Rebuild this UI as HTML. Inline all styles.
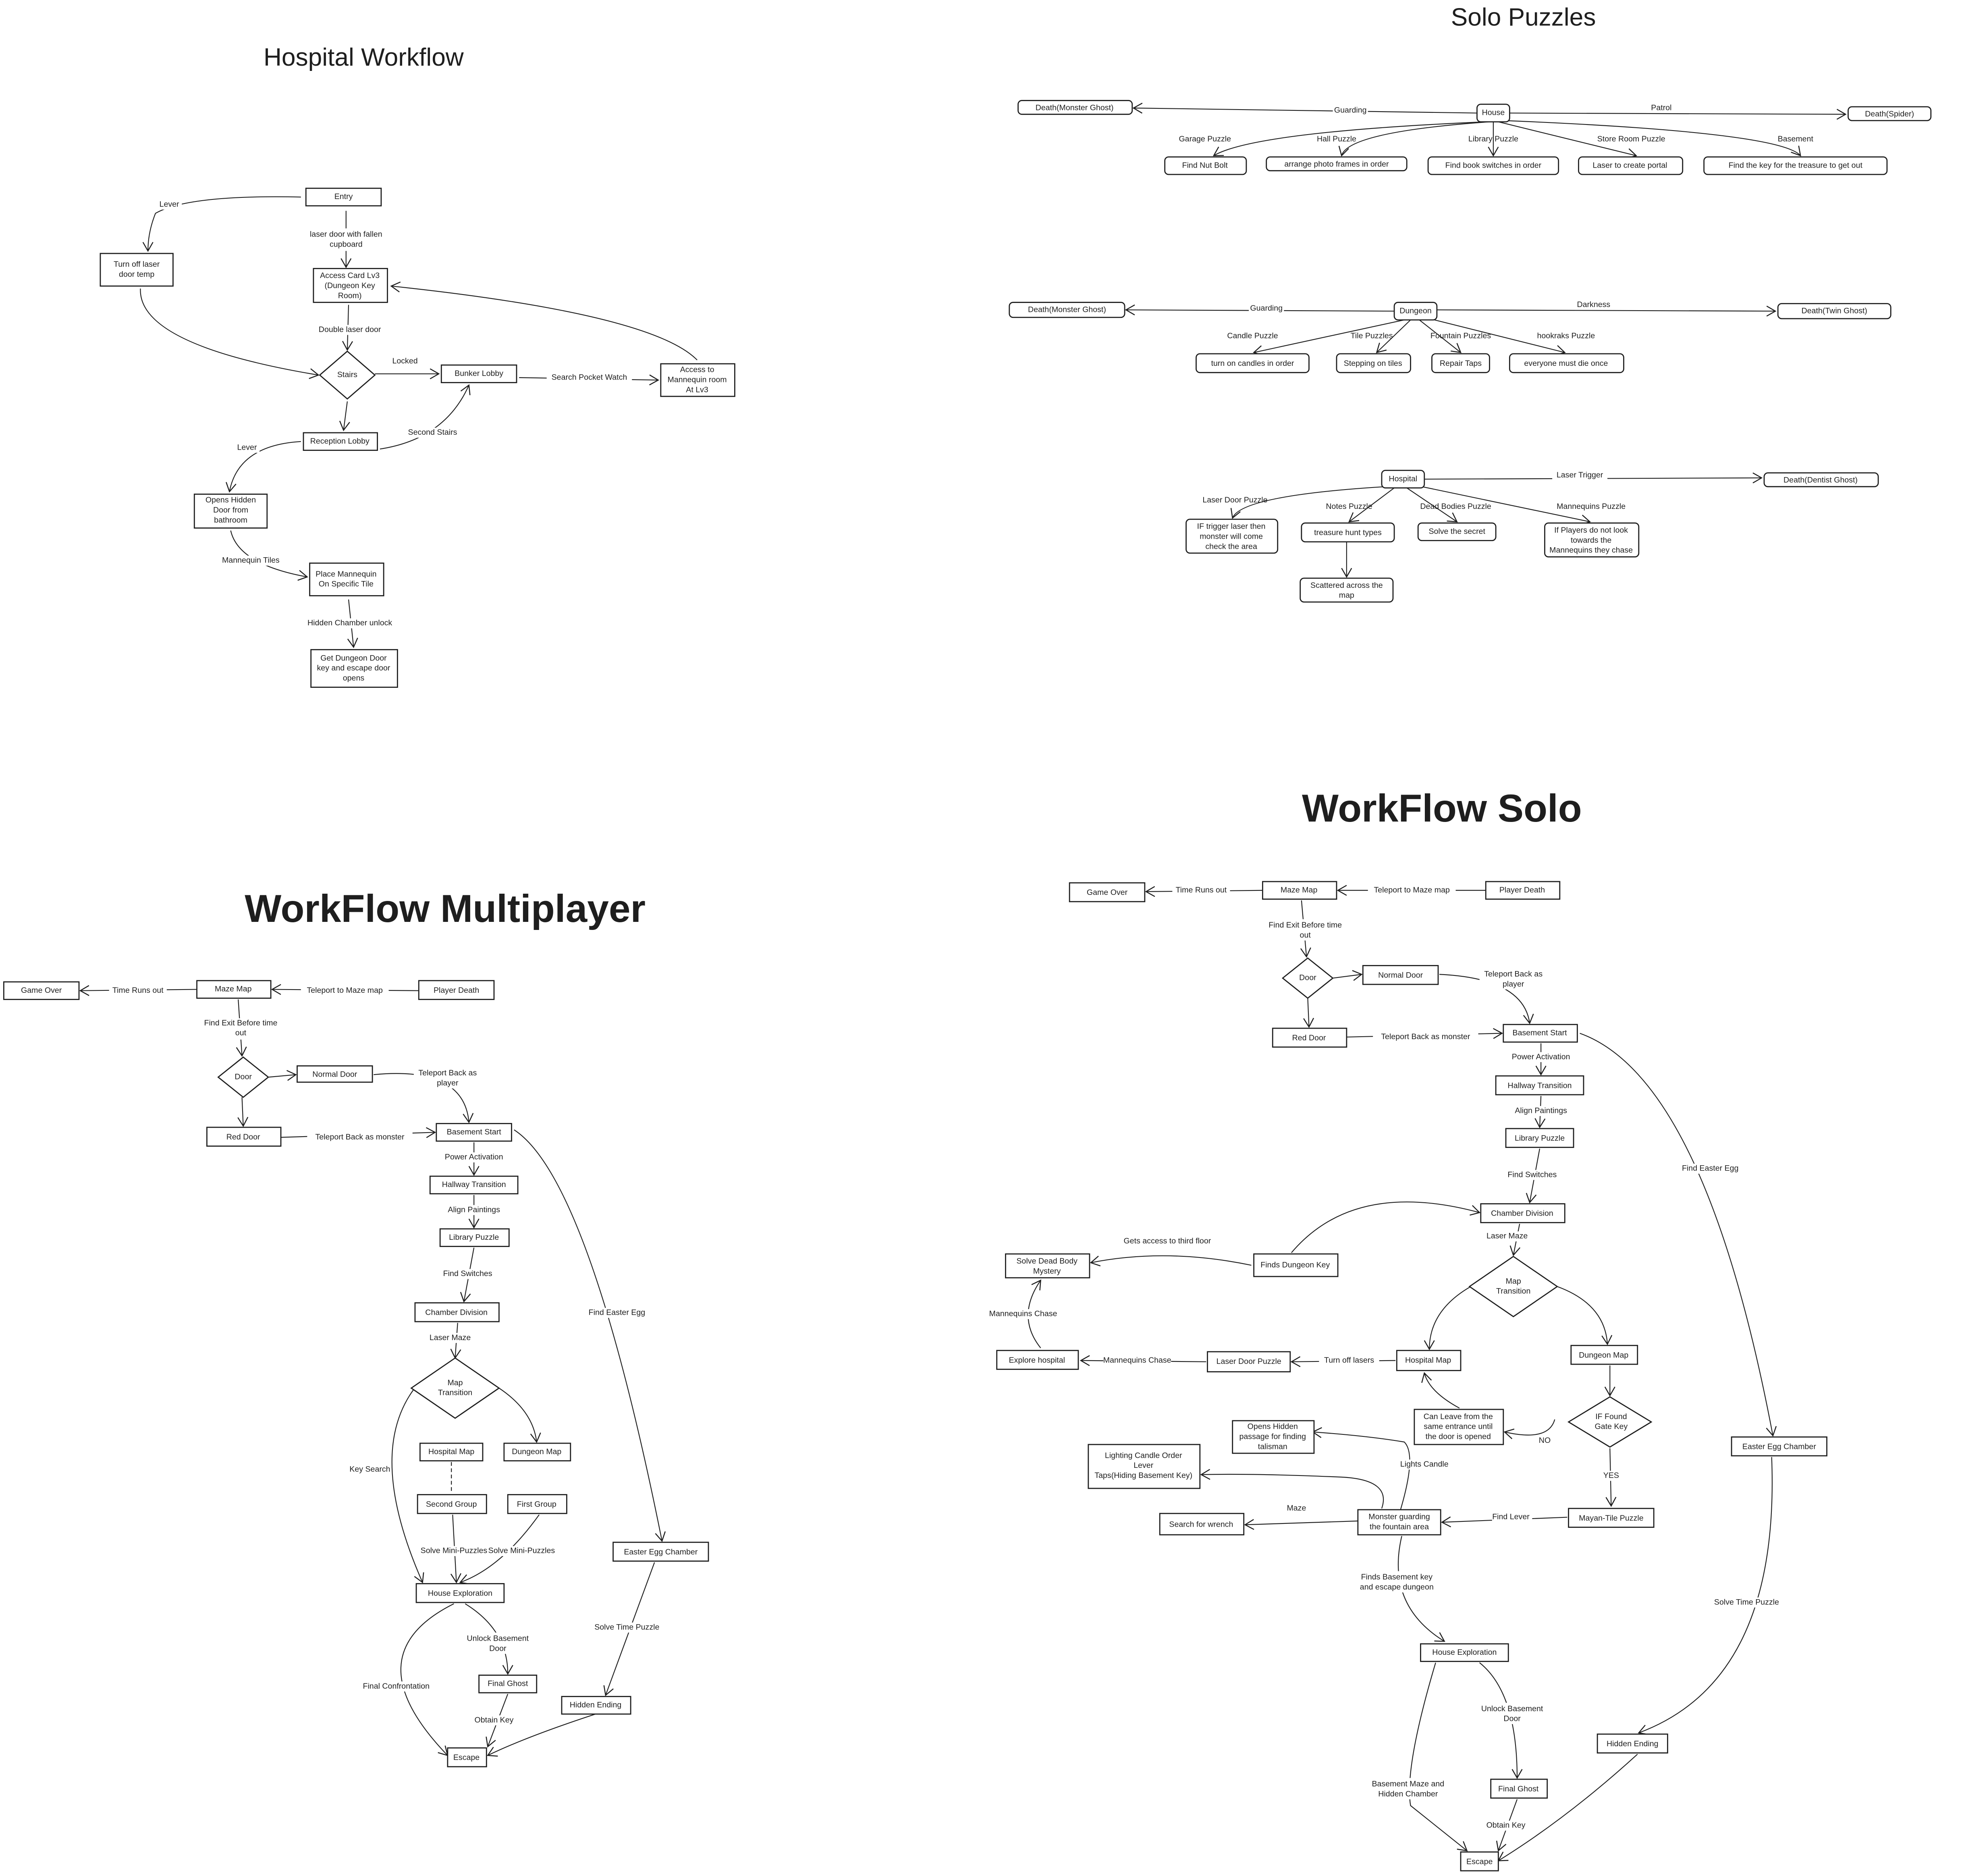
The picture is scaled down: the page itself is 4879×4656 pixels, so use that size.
<!DOCTYPE html>
<html><head><meta charset="utf-8"><style>
html,body{margin:0;padding:0;background:#fff}
svg{display:block}
text{font-family:"Liberation Sans",sans-serif;font-size:6.3px;fill:#1e1e1e;text-anchor:middle;dominant-baseline:middle}
.t1{font-size:20px}
.t2{font-size:31px;font-weight:bold}
rect{fill:#fff;stroke:#1e1e1e;stroke-width:0.9}
path,line{fill:none;stroke:#1e1e1e;stroke-width:0.7}
.lb{fill:#fff;stroke:none}
</style></head><body>
<svg width="4879" height="4656" viewBox="0 0 1568 1496" xmlns="http://www.w3.org/2000/svg">
<defs><marker id="a" markerUnits="userSpaceOnUse" markerWidth="10" markerHeight="10" refX="8" refY="5" orient="auto"><path d="M1 1 L8 5 L1 9" style="stroke-width:0.8"/></marker></defs>
<g marker-end="url(#a)">
<!-- Hospital connectors -->
<path d="M240 157 Q150 155 124 170 Q118 185 118 200"/>
<path d="M276 168 L276 213"/>
<path d="M278 243 L277 279"/>
<path d="M112 230 Q110 275 254 299"/>
<path d="M299 298 L350 298"/>
<path d="M414 301 L525 303"/>
<path d="M556 287 Q520 250 312 228"/>
<path d="M277 320 L274 343"/>
<path d="M303 358 Q355 350 374 307"/>
<path d="M240 352 Q190 355 183 392"/>
<path d="M184 423 Q190 450 245 460"/>
<path d="M278 478 L282 516"/>
<!-- Solo puzzles -->
<path d="M1178 90 L904 86"/>
<path d="M1204 90 L1472 91"/>
<path d="M1185 97 Q1000 105 968 124"/>
<path d="M1188 97 Q1075 105 1070 124"/>
<path d="M1191 97 L1191 124"/>
<path d="M1195 97 L1305 124"/>
<path d="M1200 96 Q1420 105 1436 124"/>
<path d="M1112 248 L898 247"/>
<path d="M1146 247 L1416 248"/>
<path d="M1120 255 L1000 281"/>
<path d="M1125 255 L1098 281"/>
<path d="M1132 255 L1165 281"/>
<path d="M1140 254 L1248 281"/>
<path d="M1136 382 L1405 381"/>
<path d="M1105 388 Q990 395 983 413"/>
<path d="M1112 389 L1076 416"/>
<path d="M1122 389 L1162 416"/>
<path d="M1134 388 L1268 416"/>
<path d="M1074 432 L1074 460"/>
<!-- Multiplayer -->
<path d="M157 789 L64 790"/>
<path d="M334 790 L217 789"/>
<path d="M190 797 L193 842"/>
<path d="M214 859 L236 857"/>
<path d="M193 875 L194 898"/>
<path d="M298 857 Q370 850 374 895"/>
<path d="M224 907 L347 903"/>
<path d="M378 911 L378 937"/>
<path d="M378 953 L378 979"/>
<path d="M378 995 L370 1038"/>
<path d="M365 1055 L363 1083"/>
<path d="M398 1107 Q425 1125 428 1150"/>
<path d="M330 1108 Q292 1160 337 1262"/>
<path d="M361 1208 L364 1262"/>
<path d="M430 1208 Q400 1250 367 1262"/>
<path d="M410 901 Q470 940 528 1229"/>
<path d="M522 1246 L483 1352"/>
<path d="M362 1279 Q280 1320 357 1400"/>
<path d="M371 1279 Q405 1300 405 1335"/>
<path d="M405 1351 L389 1393"/>
<path d="M475 1367 Q420 1385 389 1400"/>
<!-- Solo workflow -->
<path d="M1007 710 L914 711"/>
<path d="M1185 710 L1067 710"/>
<path d="M1038 718 L1042 763"/>
<path d="M1063 780 L1086 777"/>
<path d="M1043 796 L1044 819"/>
<path d="M1148 777 Q1215 780 1220 816"/>
<path d="M1074 827 L1198 824"/>
<path d="M1229 832 L1229 857"/>
<path d="M1229 874 L1228 899"/>
<path d="M1228 916 L1220 959"/>
<path d="M1212 976 L1207 1001"/>
<path d="M1030 999 Q1080 940 1180 967"/>
<path d="M998 1009 Q930 995 870 1007"/>
<path d="M830 1075 Q810 1050 830 1021"/>
<path d="M962 1086 L862 1085"/>
<path d="M1113 1085 L1030 1086"/>
<path d="M1173 1026 Q1140 1045 1140 1076"/>
<path d="M1242 1026 Q1280 1040 1282 1072"/>
<path d="M1284 1089 L1284 1113"/>
<path d="M1284 1155 L1285 1201"/>
<path d="M1250 1210 L1150 1214"/>
<path d="M1164 1123 Q1140 1110 1136 1095"/>
<path d="M1240 1132 Q1235 1150 1200 1142"/>
<path d="M1117 1204 Q1130 1160 1120 1150 Q1090 1145 1047 1142"/>
<path d="M1102 1203 Q1110 1180 1070 1178 Q1000 1175 958 1176"/>
<path d="M1083 1213 L993 1216"/>
<path d="M1118 1225 Q1105 1280 1152 1309"/>
<path d="M1260 824 Q1360 860 1414 1145"/>
<path d="M1413 1162 Q1420 1340 1307 1382"/>
<path d="M1145 1326 Q1120 1410 1125 1440 Q1150 1460 1170 1476"/>
<path d="M1180 1326 Q1210 1350 1210 1418"/>
<path d="M1210 1435 L1195 1476"/>
<path d="M1306 1399 Q1250 1450 1195 1484"/>
</g>
<path d="M360 1166 L360 1191" style="stroke-dasharray:3 2"/>
<!-- titles -->
<text x="290" y="47" class="t1">Hospital Workflow</text>
<text x="1215" y="15" class="t1">Solo Puzzles</text>
<text x="355" y="727" class="t2">WorkFlow Multiplayer</text>
<text x="1150" y="647" class="t2">WorkFlow Solo</text>
<!-- label backgrounds -->
<g>
<rect class="lb" x="125" y="159" width="20" height="8"/><text x="135" y="163">Lever</text>
<rect class="lb" x="240" y="182" width="74" height="18"/><text x="276" y="187">laser door with fallen</text><text x="276" y="195">cupboard</text>
<rect class="lb" x="249" y="259" width="60" height="8"/><text x="279" y="263">Double laser door</text>
<rect class="lb" x="312" y="284" width="24" height="8"/><text x="323" y="288">Locked</text>
<rect class="lb" x="436" y="297" width="68" height="8"/><text x="470" y="301">Search Pocket Watch</text>
<rect class="lb" x="322" y="341" width="46" height="8"/><text x="345" y="345">Second Stairs</text>
<rect class="lb" x="187" y="353" width="20" height="8"/><text x="197" y="357">Lever</text>
<rect class="lb" x="175" y="443" width="50" height="8"/><text x="200" y="447">Mannequin Tiles</text>
<rect class="lb" x="245" y="493" width="68" height="8"/><text x="279" y="497">Hidden Chamber unlock</text>

<rect class="lb" x="1063" y="84" width="28" height="8"/><text x="1077" y="88">Guarding</text>
<rect class="lb" x="1313" y="82" width="24" height="8"/><text x="1325" y="86">Patrol</text>
<text x="961" y="111">Garage Puzzle</text><text x="1066" y="111">Hall Puzzle</text><text x="1191" y="111">Library Puzzle</text><text x="1301" y="111">Store Room Puzzle</text><text x="1432" y="111">Basement</text>
<rect class="lb" x="996" y="242" width="28" height="8"/><text x="1010" y="246">Guarding</text>
<rect class="lb" x="1256" y="239" width="30" height="8"/><text x="1271" y="243">Darkness</text>
<text x="999" y="268">Candle Puzzle</text><text x="1094" y="268">Tile Puzzles</text><text x="1165" y="268">Fountain Puzzles</text><text x="1249" y="268">hookraks Puzzle</text>
<rect class="lb" x="1238" y="375" width="44" height="8"/><text x="1260" y="379">Laser Trigger</text>
<text x="985" y="399">Laser Door Puzzle</text><text x="1076" y="404">Notes Puzzle</text><text x="1161" y="404">Dead Bodies Puzzle</text><text x="1269" y="404">Mannequins Puzzle</text>

<rect class="lb" x="87" y="786" width="46" height="8"/><text x="110" y="790">Time Runs out</text>
<rect class="lb" x="240" y="786" width="70" height="8"/><text x="275" y="790">Teleport to Maze map</text>
<rect class="lb" x="157" y="812" width="70" height="17"/><text x="192" y="816">Find Exit Before time</text><text x="192" y="824">out</text>
<rect class="lb" x="330" y="851" width="56" height="17"/><text x="357" y="856">Teleport Back as</text><text x="357" y="864">player</text>
<rect class="lb" x="245" y="903" width="84" height="8"/><text x="287" y="907">Teleport Back as monster</text>
<rect class="lb" x="351" y="919" width="54" height="8"/><text x="378" y="923">Power Activation</text>
<rect class="lb" x="355" y="961" width="46" height="8"/><text x="378" y="965">Align Paintings</text>
<rect class="lb" x="352" y="1012" width="42" height="8"/><text x="373" y="1016">Find Switches</text>
<rect class="lb" x="341" y="1063" width="36" height="8"/><text x="359" y="1067">Laser Maze</text>
<rect class="lb" x="278" y="1168" width="34" height="8"/><text x="295" y="1172">Key Search</text>
<rect class="lb" x="334" y="1233" width="56" height="8"/><text x="362" y="1237">Solve Mini-Puzzles</text>
<rect class="lb" x="390" y="1233" width="54" height="8"/><text x="416" y="1237">Solve Mini-Puzzles</text>
<rect class="lb" x="468" y="1043" width="50" height="8"/><text x="492" y="1047">Find Easter Egg</text>
<rect class="lb" x="472" y="1294" width="56" height="8"/><text x="500" y="1298">Solve Time Puzzle</text>
<rect class="lb" x="370" y="1302" width="54" height="17"/><text x="397" y="1307">Unlock Basement</text><text x="397" y="1315">Door</text>
<rect class="lb" x="285" y="1341" width="62" height="8"/><text x="316" y="1345">Final Confrontation</text>
<rect class="lb" x="377" y="1368" width="34" height="8"/><text x="394" y="1372">Obtain Key</text>

<rect class="lb" x="935" y="706" width="46" height="8"/><text x="958" y="710">Time Runs out</text>
<rect class="lb" x="1091" y="706" width="70" height="8"/><text x="1126" y="710">Teleport to Maze map</text>
<rect class="lb" x="1006" y="733" width="70" height="17"/><text x="1041" y="738">Find Exit Before time</text><text x="1041" y="746">out</text>
<rect class="lb" x="1180" y="772" width="56" height="17"/><text x="1207" y="777">Teleport Back as</text><text x="1207" y="785">player</text>
<rect class="lb" x="1095" y="823" width="84" height="8"/><text x="1137" y="827">Teleport Back as monster</text>
<rect class="lb" x="1202" y="839" width="54" height="8"/><text x="1229" y="843">Power Activation</text>
<rect class="lb" x="1206" y="882" width="46" height="8"/><text x="1229" y="886">Align Paintings</text>
<rect class="lb" x="1201" y="933" width="42" height="8"/><text x="1222" y="937">Find Switches</text>
<rect class="lb" x="1184" y="982" width="36" height="8"/><text x="1202" y="986">Laser Maze</text>
<rect class="lb" x="888" y="986" width="86" height="8"/><text x="931" y="990">Gets access to third floor</text>
<rect class="lb" x="790" y="1044" width="54" height="8"/><text x="816" y="1048">Mannequins Chase</text>
<rect class="lb" x="880" y="1081" width="54" height="8"/><text x="907" y="1085">Mannequins Chase</text>
<rect class="lb" x="1052" y="1081" width="48" height="8"/><text x="1076" y="1085">Turn off lasers</text>
<rect class="lb" x="1278" y="1173" width="14" height="8"/><text x="1285" y="1177">YES</text>
<text x="1232" y="1149">NO</text>
<rect class="lb" x="1190" y="1206" width="32" height="8"/><text x="1205" y="1210">Find Lever</text>
<rect class="lb" x="1114" y="1164" width="44" height="8"/><text x="1136" y="1168">Lights Candle</text>
<rect class="lb" x="1024" y="1199" width="20" height="8"/><text x="1034" y="1203">Maze</text>
<rect class="lb" x="1080" y="1253" width="68" height="17"/><text x="1114" y="1258">Finds Basement key</text><text x="1114" y="1266">and escape dungeon</text>
<rect class="lb" x="1338" y="928" width="52" height="8"/><text x="1364" y="932">Find Easter Egg</text>
<rect class="lb" x="1365" y="1274" width="56" height="8"/><text x="1393" y="1278">Solve Time Puzzle</text>
<rect class="lb" x="1179" y="1358" width="54" height="17"/><text x="1206" y="1363">Unlock Basement</text><text x="1206" y="1371">Door</text>
<rect class="lb" x="1088" y="1418" width="70" height="17"/><text x="1123" y="1423">Basement Maze and</text><text x="1123" y="1431">Hidden Chamber</text>
<rect class="lb" x="1184" y="1452" width="34" height="8"/><text x="1201" y="1456">Obtain Key</text>
</g>
<!-- Hospital nodes -->
<rect x="244" y="150" width="60" height="14"/><text x="274" y="157">Entry</text>
<rect x="80" y="202" width="58" height="26"/><text x="109" y="211">Turn off laser</text><text x="109" y="219">door temp</text>
<rect x="250" y="214" width="59" height="27"/><text x="279" y="220">Access Card Lv3</text><text x="279" y="228">(Dungeon Key</text><text x="279" y="236">Room)</text>
<path d="M277 280 L299 299 L277 318 L255 299 Z" style="fill:#fff;stroke-width:0.9"/><text x="277" y="299">Stairs</text>
<rect x="352" y="291" width="60" height="14"/><text x="382" y="298">Bunker Lobby</text>
<rect x="527" y="290" width="59" height="26"/><text x="556" y="295">Access to</text><text x="556" y="303">Mannequin room</text><text x="556" y="311">At  Lv3</text>
<rect x="242" y="345" width="59" height="14"/><text x="271" y="352">Reception Lobby</text>
<rect x="155" y="394" width="58" height="27"/><text x="184" y="399">Opens Hidden</text><text x="184" y="407">Door from</text><text x="184" y="415">bathroom</text>
<rect x="247" y="449" width="59" height="26"/><text x="276" y="458">Place Mannequin</text><text x="276" y="466">On Specific Tile</text>
<rect x="248" y="518" width="69" height="30"/><text x="282" y="525">Get Dungeon Door</text><text x="282" y="533">key and escape door</text><text x="282" y="541">opens</text>
<!-- Solo puzzle nodes -->
<g style="--r:3">
<rect rx="3" x="812" y="80" width="91" height="11"/><text x="857" y="86">Death(Monster Ghost)</text>
<rect rx="3" x="1178" y="83" width="26" height="14"/><text x="1191" y="90">House</text>
<rect rx="3" x="1474" y="85" width="66" height="11"/><text x="1507" y="91">Death(Spider)</text>
<rect rx="3" x="929" y="125" width="65" height="14"/><text x="961" y="132">Find Nut Bolt</text>
<rect rx="3" x="1010" y="125" width="112" height="11"/><text x="1066" y="131">arrange photo frames in order</text>
<rect rx="3" x="1139" y="125" width="104" height="14"/><text x="1191" y="132">Find book switches in order</text>
<rect rx="3" x="1259" y="125" width="83" height="14"/><text x="1300" y="132">Laser to create portal</text>
<rect rx="3" x="1359" y="125" width="146" height="14"/><text x="1432" y="132">Find the key for the treasure to get out</text>
<rect rx="3" x="805" y="241" width="92" height="12"/><text x="851" y="247">Death(Monster Ghost)</text>
<rect rx="3" x="1112" y="241" width="34" height="14"/><text x="1129" y="248">Dungeon</text>
<rect rx="3" x="1418" y="242" width="90" height="12"/><text x="1463" y="248">Death(Twin Ghost)</text>
<rect rx="3" x="954" y="282" width="90" height="15"/><text x="999" y="290">turn on candles in order</text>
<rect rx="3" x="1066" y="282" width="59" height="15"/><text x="1095" y="290">Stepping on tiles</text>
<rect rx="3" x="1142" y="282" width="46" height="15"/><text x="1165" y="290">Repair Taps</text>
<rect rx="3" x="1204" y="282" width="91" height="15"/><text x="1249" y="290">everyone must die once</text>
<rect rx="3" x="1102" y="375" width="34" height="14"/><text x="1119" y="382">Hospital</text>
<rect rx="3" x="1407" y="377" width="91" height="11"/><text x="1452" y="383">Death(Dentist Ghost)</text>
<rect rx="3" x="946" y="414" width="73" height="27"/><text x="982" y="420">IF trigger laser then</text><text x="982" y="428">monster will come</text><text x="982" y="436">check the area</text>
<rect rx="3" x="1038" y="417" width="74" height="15"/><text x="1075" y="425">treasure hunt types</text>
<rect rx="3" x="1131" y="417" width="62" height="14"/><text x="1162" y="424">Solve the secret</text>
<rect rx="3" x="1232" y="417" width="75" height="27"/><text x="1269" y="423">If Players do not look</text><text x="1269" y="431">towards the</text><text x="1269" y="439">Mannequins they chase</text>
<rect rx="3" x="1037" y="461" width="74" height="19"/><text x="1074" y="467">Scattered across the</text><text x="1074" y="475">map</text>
</g>
<!-- Multiplayer nodes -->
<rect x="3" y="783" width="60" height="14"/><text x="33" y="790">Game Over</text>
<rect x="157" y="782" width="59" height="14"/><text x="186" y="789">Maze Map</text>
<rect x="334" y="782" width="60" height="15"/><text x="364" y="790">Player Death</text>
<path d="M194 843 L214 859 L194 875 L174 859 Z" style="fill:#fff;stroke-width:0.9"/><text x="194" y="859">Door</text>
<rect x="237" y="850" width="60" height="13"/><text x="267" y="857">Normal Door</text>
<rect x="165" y="899" width="59" height="15"/><text x="194" y="907">Red Door</text>
<rect x="348" y="896" width="60" height="14"/><text x="378" y="903">Basement Start</text>
<rect x="343" y="938" width="70" height="14"/><text x="378" y="945">Hallway Transition</text>
<rect x="351" y="980" width="55" height="14"/><text x="378" y="987">Library Puzzle</text>
<rect x="331" y="1039" width="67" height="15"/><text x="364" y="1047">Chamber Division</text>
<path d="M363 1083 L398 1107 L363 1131 L328 1107 Z" style="fill:#fff;stroke-width:0.9"/><text x="363" y="1103">Map</text><text x="363" y="1111">Transition</text>
<rect x="335" y="1151" width="50" height="14"/><text x="360" y="1158">Hospital Map</text>
<rect x="402" y="1151" width="53" height="14"/><text x="428" y="1158">Dungeon Map</text>
<rect x="333" y="1192" width="55" height="15"/><text x="360" y="1200">Second Group</text>
<rect x="405" y="1192" width="47" height="15"/><text x="428" y="1200">First Group</text>
<rect x="332" y="1263" width="70" height="15"/><text x="367" y="1271">House Exploration</text>
<rect x="489" y="1230" width="76" height="15"/><text x="527" y="1238">Easter Egg Chamber</text>
<rect x="448" y="1353" width="55" height="14"/><text x="475" y="1360">Hidden Ending</text>
<rect x="382" y="1336" width="46" height="14"/><text x="405" y="1343">Final Ghost</text>
<rect x="357" y="1394" width="31" height="15"/><text x="372" y="1402">Escape</text>
<!-- Solo workflow nodes -->
<rect x="853" y="704" width="60" height="15"/><text x="883" y="712">Game Over</text>
<rect x="1007" y="703" width="59" height="14"/><text x="1036" y="710">Maze Map</text>
<rect x="1185" y="703" width="59" height="14"/><text x="1214" y="710">Player Death</text>
<path d="M1043 764 L1063 780 L1043 796 L1023 780 Z" style="fill:#fff;stroke-width:0.9"/><text x="1043" y="780">Door</text>
<rect x="1087" y="770" width="60" height="15"/><text x="1117" y="778">Normal Door</text>
<rect x="1015" y="820" width="59" height="15"/><text x="1044" y="828">Red Door</text>
<rect x="1199" y="817" width="59" height="14"/><text x="1228" y="824">Basement Start</text>
<rect x="1193" y="858" width="70" height="15"/><text x="1228" y="866">Hallway Transition</text>
<rect x="1201" y="900" width="54" height="15"/><text x="1228" y="908">Library Puzzle</text>
<rect x="1181" y="960" width="67" height="15"/><text x="1214" y="968">Chamber Division</text>
<path d="M1207 1002 L1242 1026 L1207 1050 L1172 1026 Z" style="fill:#fff;stroke-width:0.9"/><text x="1207" y="1022">Map</text><text x="1207" y="1030">Transition</text>
<rect x="1000" y="1000" width="67" height="18"/><text x="1033" y="1009">Finds Dungeon Key</text>
<rect x="802" y="1000" width="67" height="19"/><text x="835" y="1006">Solve Dead Body</text><text x="835" y="1014">Mystery</text>
<rect x="795" y="1077" width="65" height="15"/><text x="827" y="1085">Explore hospital</text>
<rect x="963" y="1078" width="66" height="16"/><text x="996" y="1086">Laser Door Puzzle</text>
<rect x="1114" y="1077" width="51" height="16"/><text x="1139" y="1085">Hospital Map</text>
<rect x="1253" y="1073" width="53" height="15"/><text x="1279" y="1081">Dungeon Map</text>
<path d="M1284 1114 L1317 1134 L1284 1154 L1251 1134 Z" style="fill:#fff;stroke-width:0.9"/><text x="1285" y="1130">IF Found</text><text x="1285" y="1138">Gate Key</text>
<rect x="1251" y="1203" width="68" height="15"/><text x="1285" y="1211">Mayan-Tile Puzzle</text>
<rect x="1128" y="1124" width="71" height="28"/><text x="1163" y="1130">Can Leave from the</text><text x="1163" y="1138">same entrance until</text><text x="1163" y="1146">the door is opened</text>
<rect x="1083" y="1204" width="66" height="20"/><text x="1116" y="1210">Monster guarding</text><text x="1116" y="1218">the fountain area</text>
<rect x="983" y="1133" width="65" height="26"/><text x="1015" y="1138">Opens Hidden</text><text x="1015" y="1146">passage for finding</text><text x="1015" y="1154">talisman</text>
<rect x="868" y="1152" width="89" height="35"/><text x="912" y="1161">Lighting Candle Order</text><text x="912" y="1169">Lever</text><text x="912" y="1177">Taps(Hiding Basement Key)</text>
<rect x="925" y="1207" width="67" height="17"/><text x="958" y="1216">Search for wrench</text>
<rect x="1133" y="1311" width="70" height="14"/><text x="1168" y="1318">House Exploration</text>
<rect x="1381" y="1146" width="76" height="15"/><text x="1419" y="1154">Easter Egg Chamber</text>
<rect x="1274" y="1383" width="56" height="15"/><text x="1302" y="1391">Hidden Ending</text>
<rect x="1189" y="1419" width="45" height="15"/><text x="1211" y="1427">Final Ghost</text>
<rect x="1165" y="1477" width="30" height="15"/><text x="1180" y="1485">Escape</text>
</svg>
</body></html>
